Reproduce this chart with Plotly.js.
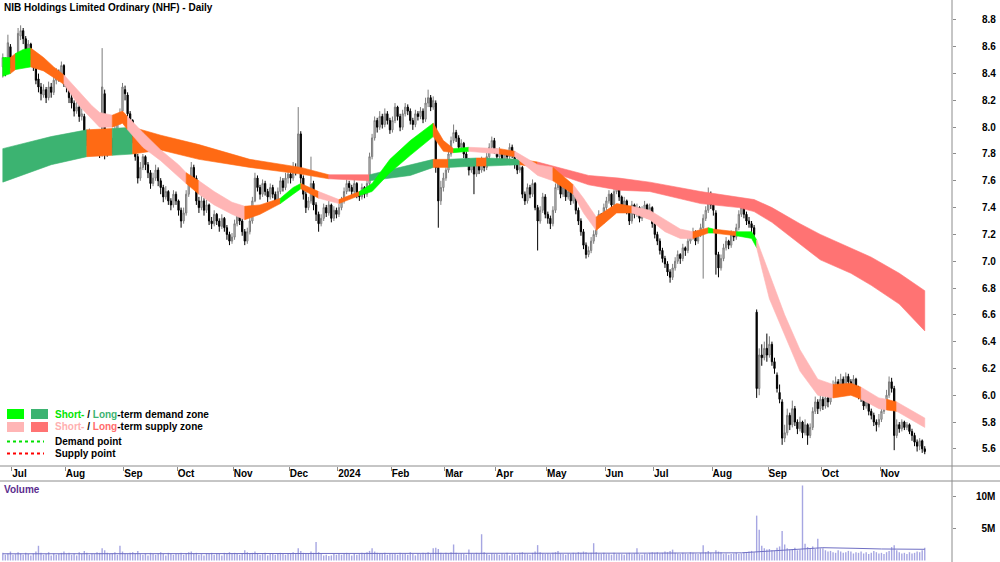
<!DOCTYPE html>
<html><head><meta charset="utf-8">
<script src="https://cdn.plot.ly/plotly-3.0.1.min.js"></script>
<style>html,body{margin:0;padding:0;background:#fff}#chart{width:1000px;height:562px}</style>
</head><body><div id="chart"></div>
<script>
// ---------- data ----------
const startDate = '2023-06-27', endDate = '2024-11-26';
const holidays = ['2023-12-25','2023-12-26','2024-01-01','2024-01-26','2024-03-29','2024-04-01','2024-04-25','2024-06-10'];
const monthLabels = ['Jul','Aug','Sep','Oct','Nov','Dec','2024','Feb','Mar','Apr','May','Jun','Jul','Aug','Sep','Oct','Nov'];
const priceTicks = [5.6,5.8,6.0,6.2,6.4,6.6,6.8,7.0,7.2,7.4,7.6,7.8,8.0,8.2,8.4,8.6,8.8];

const open = [
8.45,8.50,8.42,8.60,
8.50,8.46,8.52,8.68,8.72,8.66,8.58,8.62,8.55,8.45,8.36,8.30,8.24,8.28,8.22,8.30,8.26,8.35,8.40,8.38,8.46,
8.32,8.30,8.22,8.18,8.12,8.15,8.08,8.08,7.95,7.90,7.95,7.85,7.92,7.88,7.90,8.25,7.85,7.82,7.90,7.85,7.98,8.05,8.12,
8.28,8.24,8.10,8.05,7.92,7.78,7.62,7.70,7.78,7.72,7.66,7.58,7.62,7.68,7.60,7.55,7.48,7.52,7.45,7.42,7.50,
7.45,7.38,7.30,7.36,7.50,7.60,7.70,7.62,7.45,7.40,7.45,7.38,7.42,7.30,7.28,7.35,7.30,7.26,7.32,7.25,7.20,7.15,
7.18,7.28,7.35,7.30,7.22,7.15,7.22,7.30,7.45,7.62,7.55,7.50,7.58,7.52,7.48,7.55,7.50,7.45,7.52,7.60,7.55,7.62,
7.65,7.62,7.70,7.70,7.95,7.62,7.50,7.40,7.45,7.58,7.42,7.35,7.28,7.32,7.40,7.36,7.42,7.32,7.38,
7.35,7.40,7.45,7.52,7.58,7.55,7.52,7.58,7.50,7.48,7.55,7.50,7.58,7.78,7.92,8.05,8.00,8.08,8.02,8.10,8.05,
7.98,8.05,8.15,8.08,8.00,8.10,8.15,8.12,8.05,8.02,8.10,8.08,8.12,8.06,8.18,8.22,8.15,8.18,7.70,7.45,7.55,
7.62,7.68,7.80,7.90,7.96,7.92,7.85,7.88,7.80,7.75,7.68,7.72,7.65,7.72,7.68,7.75,7.70,7.78,7.85,7.90,
7.82,7.78,7.82,7.75,7.80,7.78,7.85,7.80,7.72,7.68,7.70,7.50,7.45,7.55,7.50,7.58,7.40,7.30,7.38,7.48,
7.35,7.32,7.28,7.38,7.55,7.62,7.50,7.55,7.48,7.52,7.45,7.50,7.38,7.30,7.22,7.12,7.05,7.08,7.15,7.20,7.28,7.35,7.30,
7.40,7.45,7.50,7.42,7.52,7.55,7.48,7.40,7.45,7.38,7.30,7.42,7.35,7.40,7.32,7.38,7.42,7.35,7.40,
7.28,7.20,7.15,7.08,7.02,6.98,6.92,6.88,6.95,7.00,7.05,7.02,7.10,7.08,7.15,7.18,7.22,7.15,7.20,7.25,7.32,7.38,7.50,
7.42,7.36,7.05,6.95,7.02,7.10,7.15,7.12,7.20,7.18,7.25,7.35,7.40,7.35,7.30,7.28,7.25,6.62,6.05,6.30,6.28,6.35,
6.30,6.38,6.25,6.15,6.02,5.95,5.68,5.72,5.85,5.78,5.90,5.80,5.75,5.80,5.72,5.78,5.70,5.76,5.88,5.95,5.90,
5.97,5.92,5.98,5.95,6.02,6.08,6.10,6.05,6.12,6.08,6.14,6.10,6.06,6.12,6.05,6.00,5.98,5.92,5.95,5.88,5.85,5.80,5.78,
5.82,5.88,5.92,6.00,6.10,6.05,5.70,5.78,5.75,5.80,5.76,5.78,5.73,5.70,5.65,5.62,5.66,5.60];

const high = [
8.55,8.52,8.69,8.62,
8.53,8.55,8.74,8.76,8.74,8.68,8.65,8.63,8.57,8.48,8.40,8.33,8.32,8.30,8.34,8.33,8.38,8.44,8.43,8.49,8.47,
8.36,8.32,8.25,8.20,8.19,8.17,8.14,8.10,7.98,7.99,7.96,7.95,7.94,7.90,8.59,8.28,7.90,7.94,7.92,8.01,8.08,8.14,8.33,
8.31,8.26,8.12,8.06,7.94,7.80,7.74,7.80,7.79,7.74,7.68,7.66,7.72,7.70,7.62,7.57,7.56,7.53,7.47,7.53,7.52,
7.46,7.40,7.40,7.53,7.63,7.74,7.72,7.64,7.48,7.49,7.47,7.46,7.43,7.33,7.38,7.36,7.32,7.35,7.33,7.27,7.22,7.21,
7.31,7.38,7.36,7.32,7.24,7.25,7.33,7.48,7.66,7.64,7.57,7.61,7.60,7.54,7.58,7.57,7.52,7.55,7.63,7.62,7.66,7.68,
7.67,7.74,7.73,8.15,7.97,7.64,7.52,7.48,7.78,7.60,7.44,7.37,7.35,7.43,7.42,7.45,7.43,7.41,7.40,
7.43,7.48,7.55,7.61,7.60,7.57,7.61,7.59,7.52,7.58,7.56,7.61,7.81,7.95,8.08,8.07,8.12,8.10,8.14,8.12,8.07,
8.08,8.18,8.16,8.10,8.13,8.18,8.17,8.14,8.07,8.13,8.12,8.15,8.14,8.22,8.28,8.24,8.23,8.20,7.74,7.60,7.66,
7.70,7.82,7.93,8.02,7.98,7.94,7.91,7.89,7.82,7.77,7.75,7.73,7.75,7.74,7.78,7.77,7.81,7.88,7.93,7.92,
7.84,7.85,7.83,7.83,7.82,7.88,7.87,7.82,7.74,7.73,7.71,7.52,7.58,7.57,7.61,7.59,7.42,7.41,7.51,7.50,
7.37,7.34,7.41,7.58,7.66,7.63,7.58,7.57,7.55,7.53,7.53,7.51,7.40,7.32,7.24,7.14,7.11,7.18,7.23,7.31,7.38,7.36,7.43,
7.48,7.53,7.51,7.55,7.59,7.56,7.49,7.48,7.46,7.40,7.45,7.43,7.43,7.41,7.41,7.45,7.43,7.43,7.41,
7.30,7.22,7.17,7.10,7.04,7.00,6.94,6.98,7.03,7.08,7.06,7.13,7.11,7.18,7.21,7.25,7.23,7.23,7.28,7.35,7.41,7.55,7.52,
7.44,7.38,7.07,7.05,7.13,7.18,7.16,7.23,7.22,7.28,7.38,7.45,7.42,7.37,7.33,7.30,7.27,6.64,6.35,6.38,6.40,6.46,
6.44,6.40,6.28,6.17,6.08,5.97,5.78,5.90,5.87,5.96,5.92,5.82,5.84,5.81,5.82,5.79,5.79,5.91,5.99,5.97,6.01,
5.99,6.02,6.00,6.06,6.11,6.14,6.12,6.16,6.14,6.17,6.16,6.12,6.15,6.13,6.07,6.03,6.00,5.99,5.96,5.90,5.87,5.82,5.86,
5.91,5.96,6.04,6.14,6.13,6.07,5.82,5.80,5.82,5.81,5.80,5.79,5.75,5.72,5.67,5.68,5.67,5.62];

const low = [
8.37,8.38,8.40,8.44,
8.42,8.44,8.50,8.65,8.62,8.55,8.52,8.50,8.42,8.32,8.26,8.20,8.22,8.18,8.20,8.22,8.24,8.32,8.34,8.36,8.30,
8.26,8.18,8.14,8.08,8.10,8.04,8.05,7.92,7.86,7.88,7.82,7.83,7.84,7.77,7.78,7.76,7.78,7.80,7.80,7.84,7.96,8.02,8.10,
8.20,8.08,8.02,7.88,7.75,7.58,7.60,7.68,7.68,7.62,7.54,7.56,7.60,7.56,7.50,7.44,7.46,7.42,7.38,7.40,7.42,
7.34,7.25,7.28,7.34,7.48,7.58,7.58,7.42,7.36,7.38,7.34,7.36,7.27,7.24,7.26,7.27,7.22,7.24,7.22,7.16,7.12,7.13,
7.16,7.26,7.27,7.19,7.12,7.13,7.20,7.28,7.44,7.52,7.46,7.48,7.49,7.44,7.46,7.47,7.42,7.43,7.50,7.52,7.53,7.58,
7.58,7.60,7.64,7.66,7.58,7.46,7.36,7.38,7.43,7.38,7.30,7.22,7.26,7.30,7.33,7.34,7.29,7.30,7.32,
7.33,7.38,7.43,7.50,7.52,7.49,7.50,7.47,7.45,7.46,7.47,7.48,7.56,7.76,7.90,7.96,7.98,7.99,8.00,8.02,7.95,
7.96,8.03,8.05,7.97,7.98,8.08,8.09,8.02,7.98,8.00,8.05,8.06,8.03,8.04,8.15,8.12,8.13,7.66,7.25,7.42,7.52,
7.60,7.66,7.78,7.88,7.89,7.82,7.83,7.77,7.72,7.64,7.66,7.50,7.63,7.65,7.66,7.67,7.68,7.76,7.83,7.80,
7.75,7.76,7.72,7.73,7.75,7.76,7.77,7.69,7.65,7.66,7.47,7.42,7.43,7.47,7.48,7.38,7.08,7.28,7.36,7.32,
7.28,7.24,7.26,7.36,7.53,7.47,7.48,7.45,7.46,7.42,7.43,7.35,7.27,7.19,7.09,7.02,7.03,7.06,7.13,7.18,7.26,7.27,7.28,
7.38,7.43,7.40,7.40,7.50,7.45,7.37,7.38,7.35,7.27,7.28,7.32,7.33,7.29,7.30,7.36,7.32,7.33,7.25,
7.17,7.12,7.05,6.99,6.95,6.89,6.84,6.86,6.93,6.98,6.98,7.00,7.04,7.06,7.13,7.16,7.12,7.13,7.18,6.87,7.30,7.36,7.39,
7.34,6.90,6.88,6.93,7.00,7.08,7.09,7.10,7.15,7.16,7.23,7.33,7.32,7.27,7.25,7.21,7.18,5.98,6.00,6.22,6.26,6.25,
6.28,6.22,6.16,6.02,5.94,5.63,5.65,5.70,5.74,5.76,5.77,5.71,5.73,5.68,5.70,5.63,5.68,5.74,5.86,5.86,5.88,
5.89,5.90,5.91,5.93,6.00,6.06,6.02,6.03,6.05,6.06,6.07,6.03,6.04,6.02,5.97,5.95,5.89,5.90,5.85,5.82,5.77,5.73,5.76,
5.80,5.86,5.90,5.98,6.02,5.59,5.68,5.72,5.73,5.74,5.74,5.71,5.66,5.62,5.58,5.59,5.57,5.56];

const close = [
8.52,8.42,8.63,8.48,
8.46,8.50,8.70,8.72,8.66,8.58,8.62,8.55,8.45,8.35,8.30,8.25,8.28,8.22,8.30,8.26,8.35,8.40,8.38,8.46,8.32,
8.30,8.22,8.18,8.12,8.15,8.08,8.10,7.95,7.90,7.95,7.85,7.92,7.88,7.80,8.30,7.82,7.82,7.90,7.85,7.98,8.05,8.10,8.30,
8.25,8.10,8.05,7.92,7.78,7.62,7.70,7.78,7.72,7.66,7.58,7.62,7.68,7.60,7.55,7.48,7.52,7.45,7.42,7.50,7.45,
7.38,7.30,7.36,7.50,7.60,7.70,7.62,7.45,7.40,7.45,7.38,7.42,7.30,7.28,7.35,7.30,7.26,7.32,7.25,7.20,7.15,7.18,
7.28,7.35,7.30,7.22,7.15,7.22,7.30,7.45,7.62,7.55,7.50,7.58,7.52,7.48,7.55,7.50,7.45,7.52,7.60,7.55,7.62,7.65,
7.62,7.70,7.68,7.95,7.62,7.50,7.40,7.45,7.58,7.42,7.35,7.28,7.32,7.40,7.36,7.42,7.32,7.38,7.35,
7.40,7.45,7.52,7.58,7.55,7.52,7.58,7.50,7.48,7.55,7.50,7.58,7.78,7.92,8.05,8.00,8.08,8.02,8.10,8.05,7.98,
8.05,8.15,8.08,8.00,8.10,8.15,8.12,8.05,8.02,8.10,8.08,8.12,8.06,8.18,8.22,8.15,8.20,7.70,7.45,7.55,7.62,
7.68,7.80,7.90,7.96,7.92,7.85,7.88,7.80,7.75,7.68,7.72,7.65,7.72,7.68,7.75,7.70,7.78,7.85,7.90,7.82,
7.78,7.82,7.75,7.80,7.78,7.85,7.80,7.72,7.68,7.70,7.50,7.45,7.55,7.50,7.58,7.40,7.30,7.38,7.48,7.35,
7.32,7.28,7.38,7.55,7.62,7.50,7.55,7.48,7.52,7.45,7.50,7.38,7.30,7.22,7.12,7.05,7.08,7.15,7.20,7.28,7.35,7.30,7.40,
7.45,7.50,7.42,7.52,7.55,7.48,7.40,7.45,7.38,7.30,7.42,7.35,7.40,7.32,7.38,7.42,7.35,7.40,7.28,
7.20,7.15,7.08,7.02,6.98,6.92,6.88,6.95,7.00,7.05,7.02,7.10,7.08,7.15,7.18,7.22,7.15,7.20,7.25,7.32,7.38,7.50,7.42,
7.38,7.05,6.95,7.02,7.10,7.15,7.12,7.20,7.18,7.25,7.35,7.40,7.35,7.30,7.28,7.25,7.20,6.05,6.30,6.28,6.35,6.30,
6.38,6.25,6.20,6.05,5.97,5.68,5.72,5.85,5.78,5.90,5.80,5.75,5.80,5.72,5.78,5.70,5.76,5.88,5.95,5.90,5.97,
5.92,5.98,5.95,6.02,6.08,6.10,6.05,6.12,6.08,6.14,6.10,6.06,6.12,6.05,6.00,5.98,5.92,5.95,5.88,5.85,5.80,5.78,5.82,
5.88,5.92,6.00,6.10,6.05,5.70,5.78,5.75,5.80,5.76,5.78,5.73,5.70,5.65,5.62,5.66,5.60,5.58];

// volume, millions of shares
const volume = [
1.2,0.9,1.1,1.4,
0.9,1.0,1.3,1.1,0.9,1.2,1.0,0.8,1.1,1.4,2.3,1.2,0.9,1.0,1.3,0.8,1.1,0.9,1.0,1.2,1.4,
1.0,1.2,0.9,1.1,0.8,1.3,1.0,1.5,1.2,0.9,1.1,1.0,1.3,1.2,1.9,1.6,1.2,1.0,1.1,1.3,0.9,2.3,1.4,
1.1,1.0,1.2,1.3,1.1,1.5,1.0,0.9,1.1,0.8,1.2,1.0,0.9,1.1,1.3,1.0,0.8,1.2,1.1,0.9,1.0,
1.0,1.2,0.9,1.1,1.3,1.4,1.0,1.2,0.9,1.0,0.8,1.1,1.0,1.2,0.9,1.1,1.0,0.8,1.2,1.0,1.3,1.1,
1.2,1.0,0.9,1.1,1.6,1.3,1.0,1.2,1.4,1.1,0.9,1.0,1.2,0.8,1.0,1.1,0.9,1.0,1.2,1.1,0.9,1.0,
1.1,1.3,1.0,1.9,1.5,1.2,1.0,1.1,1.4,1.2,2.9,1.3,1.0,0.8,0.9,0.7,0.8,1.0,0.9,
1.0,0.9,1.1,1.2,1.0,0.8,1.1,0.9,1.0,1.2,1.1,1.3,1.5,1.9,1.4,1.2,1.1,1.0,1.2,0.9,1.1,
1.0,1.1,0.9,1.2,1.0,1.1,0.9,1.3,1.0,0.8,1.1,1.0,1.2,1.1,1.3,1.0,1.9,2.0,1.8,1.2,1.0,
1.2,1.1,1.3,2.5,1.2,1.0,1.1,1.0,0.9,1.7,1.1,1.0,1.2,1.1,4.1,1.3,1.0,0.9,1.1,1.0,
1.0,0.9,1.1,1.0,1.2,0.8,1.0,1.1,0.9,1.2,1.3,1.1,1.0,0.9,1.2,1.4,2.4,1.3,1.1,1.0,
1.1,1.0,1.2,1.3,1.5,1.1,1.0,0.9,1.1,1.0,1.2,1.1,1.3,1.2,1.4,1.3,1.1,1.2,2.7,1.3,1.1,1.0,1.2,
1.0,1.1,0.9,1.2,1.0,1.1,1.0,0.9,1.1,1.2,1.0,1.1,1.9,1.0,0.9,1.1,1.0,1.2,1.3,
1.2,1.3,1.1,1.2,1.4,1.3,1.5,1.7,1.2,1.1,1.0,1.2,1.1,1.0,1.3,1.2,1.1,1.0,1.2,2.4,1.3,1.5,1.2,
1.1,1.6,1.4,1.3,1.0,1.1,0.9,1.0,1.1,1.2,1.0,1.1,1.3,1.2,1.4,1.5,1.3,7.0,4.8,2.3,1.9,1.7,
1.8,1.6,1.5,2.0,2.2,4.6,2.5,1.9,1.7,1.8,2.0,1.6,1.7,11.7,2.6,2.1,1.9,2.2,1.8,3.4,1.9,
1.9,1.6,1.4,1.5,1.3,1.2,1.6,1.4,1.2,1.3,1.5,1.4,1.1,1.3,1.2,1.4,1.1,1.3,1.0,1.2,1.5,1.3,1.1,
1.2,1.0,1.3,1.5,2.1,2.4,1.6,1.3,1.1,1.2,1.0,1.3,1.1,1.2,1.4,1.3,1.6,2.0];

// volume average line read at these bar positions (millions)
const volAvgIdx = [0,50,100,150,200,250,290,296,300,306,314,322,335,345,362];
const volAvg    = [1.05,1.05,1.05,1.1,1.15,1.15,1.2,1.35,1.55,1.7,1.9,2.0,1.9,1.8,1.75];

// short-term zone: bar position, upper, lower, state of the zone from here to the next point
const stIdx   = [0,3,5,8,11,16,20,24,30,35,38,43,47,49,55,62,69,72,77,83,90,95,101,109,114,117,124,132,140,145,152,160,169,173,177,183,195,201,210,216,224,228,233,241,247,254,260,266,271,277,279,288,294,296,301,307,313,320,326,333,337,344,347,351,362];
const stHi    = [8.52,8.52,8.55,8.58,8.59,8.52,8.45,8.39,8.26,8.16,8.11,8.09,8.12,8.08,7.96,7.83,7.72,7.66,7.60,7.52,7.44,7.41,7.42,7.47,7.55,7.58,7.52,7.46,7.52,7.58,7.76,7.90,8.03,7.90,7.84,7.85,7.84,7.82,7.72,7.70,7.57,7.47,7.33,7.43,7.41,7.38,7.31,7.24,7.22,7.25,7.24,7.22,7.22,7.16,6.90,6.60,6.34,6.12,6.08,6.09,6.06,5.98,5.97,5.95,5.83];
const stLo    = [8.38,8.40,8.43,8.44,8.45,8.42,8.37,8.32,8.16,8.06,8.00,8.00,8.03,7.98,7.85,7.75,7.63,7.58,7.50,7.42,7.35,7.31,7.35,7.43,7.50,7.54,7.47,7.43,7.49,7.52,7.66,7.79,7.93,7.82,7.81,7.82,7.80,7.78,7.64,7.60,7.50,7.36,7.23,7.36,7.36,7.31,7.22,7.17,7.17,7.21,7.21,7.19,7.17,7.10,6.72,6.45,6.18,6.00,5.98,6.00,5.97,5.90,5.89,5.88,5.76];
const stState = ['D','T','D','D','T','T','T','S','S','S','S','T','T','S','S','S','S','T','S','S','S','T','T','D','D','T','S','T','D','D','D','D','T','T','D','S','T','S','S','T','S','S','T','T','S','S','S','S','T','D','T','D','D','S','S','S','S','S','T','T','S','S','T','S','S'];

// long-term zone
const ltIdx   = [0,19,33,43,51,62,77,97,117,128,144,160,169,175,186,190,203,210,230,242,254,274,289,295,302,313,321,333,341,352,362];
const ltHi    = [7.84,7.93,7.98,7.99,8.00,7.94,7.87,7.76,7.70,7.645,7.645,7.72,7.76,7.76,7.77,7.77,7.76,7.74,7.64,7.62,7.59,7.52,7.48,7.46,7.40,7.28,7.20,7.10,7.03,6.91,6.78];
const ltLo    = [7.59,7.72,7.78,7.79,7.80,7.83,7.76,7.70,7.65,7.615,7.60,7.64,7.70,7.70,7.71,7.71,7.72,7.70,7.57,7.53,7.52,7.43,7.40,7.37,7.29,7.13,7.01,6.91,6.82,6.68,6.48];
const ltState = ['D','D','T','D','T','T','T','T','T','S','D','D','T','D','T','D','T','S','S','S','S','S','S','S','S','S','S','S','S','S','S'];

// ---------- build ----------
const FONT = '"Liberation Sans", Arial, Helvetica, sans-serif';
function tradingDays(){
  const out=[]; let d=new Date(startDate+'T00:00:00Z'); const end=new Date(endDate+'T00:00:00Z');
  while(d<=end){ const w=d.getUTCDay(); const s=d.toISOString().slice(0,10);
    if(w!==0&&w!==6&&!holidays.includes(s)) out.push(s); d.setUTCDate(d.getUTCDate()+1); }
  return out;
}
const dates = tradingDays();
const N = Math.min(open.length, high.length, low.length, close.length, volume.length);
const idx = Array.from({length:N},(_,i)=>i);
const tickvals=[], ticktext=[]; let mi=0;
for(let i=1;i<dates.length;i++){ if(dates[i].slice(5,7)!==dates[i-1].slice(5,7) && mi<monthLabels.length){ tickvals.push(i-0.5); ticktext.push(monthLabels[mi++]); } }

function bandTraces(ix, hi, lo, st, colors){
  const tr=[]; let k=0;
  while(k<ix.length-1){
    let m=k; while(m+1<ix.length-1 && st[m+1]===st[k]) m++;
    const xs=[], ys=[];
    for(let j=k;j<=m+1;j++){ xs.push(ix[j]); ys.push(hi[j]); }
    for(let j=m+1;j>=k;j--){ xs.push(ix[j]); ys.push(lo[j]); }
    xs.push(ix[k]); ys.push(hi[k]);
    tr.push({type:'scatter',mode:'lines',x:xs,y:ys,fill:'toself',fillcolor:colors[st[k]],
      line:{color:colors[st[k]],width:0.6},hoverinfo:'skip',showlegend:false,xaxis:'x',yaxis:'y'});
    k=m+1;
  }
  return tr;
}
const ORANGE='#ff6a14';
const traces = [].concat(
  bandTraces(ltIdx, ltHi, ltLo, ltState, {D:'#3cb371', S:'#ff7373', T:ORANGE}),
  bandTraces(stIdx, stHi, stLo, stState, {D:'#00ff00', S:'#ffb5b5', T:ORANGE})
);
traces.push({type:'candlestick',x:idx,open:open.slice(0,N),high:high.slice(0,N),low:low.slice(0,N),close:close.slice(0,N),
  text:dates.slice(0,N),xaxis:'x',yaxis:'y',whiskerwidth:0,showlegend:false,
  increasing:{line:{color:'#7c7c7c',width:1},fillcolor:'#d4d4d4'},
  decreasing:{line:{color:'#000000',width:1},fillcolor:'#000000'}});
traces.push({type:'bar',x:idx,y:volume.slice(0,N).map(v=>v*1e6),xaxis:'x2',yaxis:'y2',width:0.55,
  marker:{color:'#a6a6e2',line:{width:0}},showlegend:false,hoverinfo:'y'});
traces.push({type:'scatter',mode:'lines',x:volAvgIdx,y:volAvg.map(v=>v*1e6),xaxis:'x2',yaxis:'y2',
  line:{color:'#6f6fc4',width:1},hoverinfo:'skip',showlegend:false});

const H=562, PW=952;
const py = p => (H-p)/H, px = p => p/PW;
const XR=[-1.1,372.7];
const tf = {family:FONT,size:10,color:'#000',weight:'bold'};
const shapes = [
  {type:'line',xref:'paper',yref:'paper',x0:0,x1:1000/PW,y0:py(466),y1:py(466),line:{color:'#8c8c8c',width:1}},
  {type:'line',xref:'paper',yref:'paper',x0:0,x1:1000/PW,y0:py(481),y1:py(481),line:{color:'#8c8c8c',width:1}},
  {type:'line',xref:'paper',yref:'paper',x0:1,x1:1,y0:0,y1:1,line:{color:'#8c8c8c',width:1}},
  {type:'rect',xref:'paper',yref:'paper',x0:px(7),x1:px(24),y0:py(419),y1:py(409),fillcolor:'#00ff00',line:{width:0}},
  {type:'rect',xref:'paper',yref:'paper',x0:px(31),x1:px(48),y0:py(419),y1:py(409),fillcolor:'#3cb371',line:{width:0}},
  {type:'rect',xref:'paper',yref:'paper',x0:px(7),x1:px(24),y0:py(432),y1:py(422),fillcolor:'#ffb5b5',line:{width:0}},
  {type:'rect',xref:'paper',yref:'paper',x0:px(31),x1:px(48),y0:py(432),y1:py(422),fillcolor:'#ff7373',line:{width:0}},
  {type:'line',xref:'paper',yref:'paper',x0:px(7),x1:px(44),y0:py(441.5),y1:py(441.5),line:{color:'#00e000',width:2,dash:'dot'}},
  {type:'line',xref:'paper',yref:'paper',x0:px(7),x1:px(44),y0:py(453.5),y1:py(453.5),line:{color:'#ff0000',width:2,dash:'dot'}}
];
function ann(text,x,y,color){ return {text:text,xref:'paper',yref:'paper',x:px(x),y:py(y),xanchor:'left',yanchor:'middle',
  showarrow:false,font:{family:FONT,size:10,color:color||'#000',weight:'bold'}}; }
const annotations = [
  ann('NIB Holdings Limited Ordinary (NHF) - Daily',2,7),
  ann('Volume',2,489,'#5b2d8e'),
  ann('<span style="color:#00e600">Short-</span> / <span style="color:#3cb371">Long</span>-term demand zone',53,414),
  ann('<span style="color:#ffb0b0">Short-</span> / <span style="color:#ff6b6b">Long</span>-term supply zone',53,427),
  ann('Demand point',53,441),
  ann('Supply point',53,453)
];
const layout = {
  width:1000,height:562,margin:{l:0,r:48,t:0,b:0},paper_bgcolor:'#ffffff',plot_bgcolor:'#ffffff',showlegend:false,
  font:{family:FONT,size:10,color:'#000'},hovermode:false,
  xaxis:{domain:[0,1],anchor:'y',range:XR,tickmode:'array',tickvals:tickvals,ticktext:ticktext,ticks:'outside',ticklen:4,
    tickcolor:'#8c8c8c',showline:false,showgrid:false,zeroline:false,rangeslider:{visible:false},
    ticklabelposition:'outside right',ticklabelstandoff:-2,tickfont:tf,fixedrange:true},
  yaxis:{domain:[py(466),1],range:[5.472,8.949],side:'right',tickmode:'array',tickvals:priceTicks,
    ticktext:priceTicks.map(v=>v.toFixed(1)),ticks:'outside',ticklen:3,tickcolor:'#8c8c8c',ticklabelstandoff:24,
    showline:false,showgrid:false,zeroline:false,tickfont:tf,fixedrange:true},
  xaxis2:{domain:[0,1],anchor:'y2',range:XR,showticklabels:false,ticks:'',showline:false,showgrid:false,zeroline:false,fixedrange:true},
  yaxis2:{domain:[0,py(481)],range:[-0.23e6,12.4e6],side:'right',tickmode:'array',tickvals:[5e6,10e6],
    ticktext:['\u20075M','10M'],ticks:'outside',ticklen:3,tickcolor:'#8c8c8c',ticklabelstandoff:18,
    showline:false,showgrid:false,zeroline:false,tickfont:tf,fixedrange:true},
  shapes:shapes,annotations:annotations
};
Plotly.newPlot('chart',traces,layout,{staticPlot:true,displayModeBar:false});
</script></body></html>
